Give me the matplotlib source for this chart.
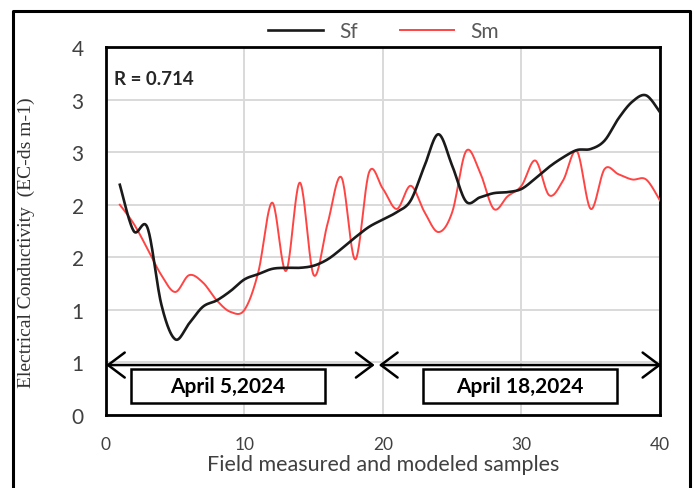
"""Sf vs Sm electrical conductivity, smoothed lines, two sampling dates."""

import matplotlib

matplotlib.use("Agg")
import matplotlib.pyplot as plt
import numpy as np
from matplotlib.lines import Line2D
from matplotlib.patches import Rectangle

samples = list(range(1, 41))
sf = [2.19, 1.75, 1.78, 1.05, 0.72, 0.87, 1.03, 1.09, 1.18, 1.29,
      1.34, 1.39, 1.40, 1.40, 1.42, 1.48, 1.58, 1.69, 1.79, 1.86,
      1.93, 2.04, 2.37, 2.67, 2.37, 2.03, 2.07, 2.11, 2.12, 2.15,
      2.25, 2.36, 2.45, 2.52, 2.53, 2.61, 2.82, 2.98, 3.04, 2.88]
sm = [2.00, 1.82, 1.58, 1.33, 1.17, 1.33, 1.26, 1.09, 0.98, 1.00,
      1.36, 2.02, 1.37, 2.21, 1.33, 1.82, 2.26, 1.48, 2.31, 2.15,
      1.96, 2.18, 1.93, 1.74, 1.93, 2.51, 2.31, 1.96, 2.08, 2.18,
      2.42, 2.09, 2.23, 2.51, 1.96, 2.34, 2.29, 2.24, 2.24, 2.04]
ytick_vals = [0, 0.5, 1.0, 1.5, 2.0, 2.5, 3.0, 3.5]
ytick_labels = ["0", "1", "1", "2", "2", "3", "3", "4"]
xtick_vals = [0, 10, 20, 30, 40]
r_text = "R = 0.714"
date1 = "April 5,2024"
date2 = "April 18,2024"


def smooth(x, y, n=24):
    # Excel-style smoothed line: cubic Bezier through each point (Catmull-Rom)
    x = np.asarray(x, float)
    y = np.asarray(y, float)
    px = np.concatenate([[x[0]], x, [x[-1]]])
    py = np.concatenate([[y[0]], y, [y[-1]]])
    t = np.linspace(0, 1, n)[:, None]
    out = []
    for i in range(len(x) - 1):
        p0 = np.array([px[i], py[i]])
        p1 = np.array([px[i + 1], py[i + 1]])
        p2 = np.array([px[i + 2], py[i + 2]])
        p3 = np.array([px[i + 3], py[i + 3]])
        c1 = p1 + (p2 - p0) / 6
        c2 = p2 - (p3 - p1) / 6
        seg = ((1 - t) ** 3) * p1 + 3 * ((1 - t) ** 2) * t * c1 \
            + 3 * (1 - t) * t ** 2 * c2 + t ** 3 * p2
        out.append(seg if i == 0 else seg[1:])
    pts = np.vstack(out)
    return pts[:, 0], pts[:, 1]


plt.rcParams["font.family"] = ["Lato", "DejaVu Sans"]

fig = plt.figure(figsize=(6.94, 4.89), dpi=100)
ax = fig.add_axes([0.1527, 0.1493, 0.7983, 0.7525])

gx, gy = smooth(samples, sf)
ax.plot(gx, gy, color="#1a1a1a", lw=1.9, label="Sf", zorder=4)
mx, my = smooth(samples, sm)
ax.plot(mx, my, color="#ff4444", lw=1.4, label="Sm", zorder=3)

ax.set_xlim(0, 40)
ax.set_ylim(0, 3.5)
ax.set_xticks(xtick_vals)
ax.set_yticks(ytick_vals)
ax.set_yticklabels(ytick_labels)
ax.tick_params(axis="y", length=0, pad=16, labelsize=15, labelcolor="#404040")
ax.tick_params(axis="x", length=0, pad=15, labelsize=12.5, labelcolor="#404040")
ax.grid(True, color="#d9d9d9", lw=1.4, zorder=0)
ax.set_axisbelow(True)
for s in ax.spines.values():
    s.set_linewidth(2)
    s.set_color("black")

ax.set_xlabel("Field measured and modeled samples", fontsize=15.5, color="#404040")
ax.xaxis.set_label_coords(0.5, -0.105)
ax.set_ylabel("Electrical Conductivity  (EC-ds m-1)", fontsize=14,
              family="Liberation Serif", color="#333333")
ax.yaxis.set_label_coords(-0.128, 0.47)

ax.text(0.55, 3.2, r_text, fontsize=13.5, fontweight="bold", color="#262626",
        va="center", ha="left")

arrow = dict(arrowstyle="<->,head_length=0.6,head_width=0.45",
             mutation_scale=20, lw=1.8, color="black", shrinkA=0, shrinkB=0)
ax.annotate("", xy=(19.4, 0.475), xytext=(0.0, 0.475), arrowprops=arrow,
            annotation_clip=False, zorder=5)
ax.annotate("", xy=(40.1, 0.475), xytext=(19.7, 0.475), arrowprops=arrow,
            annotation_clip=False, zorder=5)

for x0, x1, label in [(1.8, 15.8, date1), (22.9, 36.9, date2)]:
    ax.add_patch(Rectangle((x0, 0.115), x1 - x0, 0.32, fill=True, fc="white",
                           ec="black", lw=1.8, zorder=5))
    ax.text((x0 + x1) / 2, 0.275, label, ha="center", va="center",
            fontsize=15, fontweight="bold", color="black", zorder=6)

fig.legend(loc="center", bbox_to_anchor=(0.553, 0.934), ncol=2, frameon=False,
           fontsize=15, handlelength=2.6, columnspacing=2.0, labelcolor="#595959")

# outer frame (open at the bottom, as in the source image)
fx0, fx1, fy = 13 / 694, 690 / 694, 1 - 12 / 489
fig.add_artist(Line2D([fx0, fx0, fx1, fx1], [0, fy, fy, 0],
                      transform=fig.transFigure, color="black", lw=2.2))

fig.savefig("out.png", dpi=100)
